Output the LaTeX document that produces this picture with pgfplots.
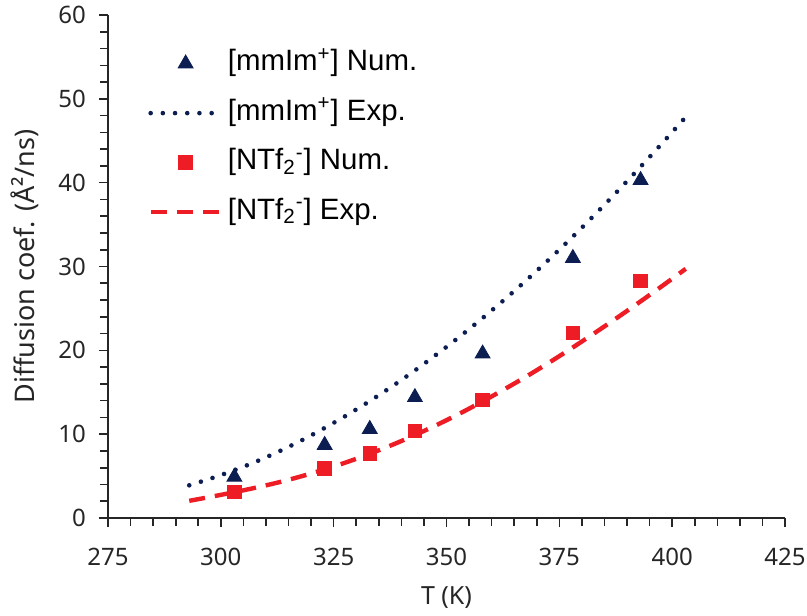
\documentclass[border=0pt]{standalone}
\usepackage{fontspec}
\setmainfont{Noto Sans}
\newfontfamily\legendfont{Liberation Sans}
\usepackage{pgfplots}
\pgfplotsset{compat=1.18}
\definecolor{navy}{HTML}{0B1D51}
\definecolor{exred}{HTML}{EE1C25}
\definecolor{axisgray}{HTML}{262626}

% Legend samples: a single centred mark, or a short line of given length
\pgfplotsset{
  markleg/.style={legend image code/.code={\draw[##1] plot coordinates {(17.5pt,0pt)};}},
  lineleg/.style={legend image code/.code={\draw[##1] (0pt,0pt) -- (#1,0pt);}},
}

% Simulated diffusion coefficients (symbols)
\pgfplotstableread{
T   D
303 4.9
323 8.7
333 10.6
343 14.4
358 19.6
378 31.0
393 40.3
}\cationNum
\pgfplotstableread{
T   D
303 3.1
323 5.9
333 7.7
343 10.4
358 14.1
378 22.1
393 28.3
}\anionNum
% Experimental correlations (lines)
\pgfplotstableread{
T   D
293 3.90
298 4.75
303 5.70
308 6.77
313 7.97
318 9.29
323 10.74
328 12.29
333 13.95
338 15.72
343 17.60
348 19.59
353 21.67
358 23.85
363 26.13
368 28.51
373 30.99
378 33.57
383 36.26
388 39.04
393 41.90
398 44.83
403 47.83
}\cationExp
\pgfplotstableread{
T   D
293 2.05
298 2.55
303 3.08
308 3.65
313 4.28
318 5.00
323 5.80
328 6.68
333 7.66
338 8.73
343 9.89
348 11.14
353 12.48
358 13.91
363 15.41
368 16.98
373 18.63
378 20.35
383 22.13
388 23.96
393 25.84
398 27.76
403 29.72
}\anionExp

\begin{document}
\begin{tikzpicture}
\path[use as bounding box] (-54pt,-48.5pt) rectangle (349.5pt,259pt);
\begin{axis}[
  at={(0,0)}, anchor=south west,
  scale only axis, width=338.5pt, height=251.5pt,
  xmin=275, xmax=425, ymin=0, ymax=60,
  xtick={275,300,...,425}, ytick={0,10,...,60},
  minor x tick num=4, minor y tick num=4,
  axis lines=left,
  axis line style={-, line width=0.9pt, axisgray},
  tick align=outside,
  major tick length=4.5pt, minor tick length=4pt,
  every tick/.style={line width=0.8pt, axisgray},
  /pgf/number format/assume math mode=true,
  ticklabel style={font=\fontsize{12}{14}\selectfont, text=axisgray},
  xticklabel style={yshift=-7pt},
  yticklabel style={xshift=-3pt},
  xlabel={T (K)},
  ylabel={Diffusion coef. (Å²/ns)},
  label style={text=axisgray},
  xlabel style={font=\fontsize{12.5}{15}\selectfont, at={(axis description cs:0.5,-0.159)}, anchor=center},
  ylabel style={font=\fontsize{13.5}{16}\selectfont, at={(axis description cs:-0.1226,0.5)}, anchor=center},
  legend cell align=left,
  legend style={
    at={(rel axis cs:0.059,0.930)}, anchor=north west,
    draw=none, fill=none, inner sep=0pt,
    font=\legendfont\fontsize{14.7}{17}\selectfont,
    row sep=11.75pt,
    nodes={inner sep=0pt, text height=10pt, text depth=3pt},
    /tikz/every odd column/.append style={column sep=2.5pt},
  },
]
\addplot[only marks, mark=triangle*, mark size=4.3pt, color=navy, markleg]
  table[x=T, y=D] {\cationNum};
\addlegendentry{[mmIm\textsuperscript{+}] Num.}

\addplot[navy, line width=2.3pt, line cap=round, dash pattern=on 0pt off 6.1pt, smooth, lineleg=31pt]
  table[x=T, y=D] {\cationExp};
\addlegendentry{[mmIm\textsuperscript{+}] Exp.}

\addplot[only marks, mark=square*, mark size=3.4pt, color=exred, markleg]
  table[x=T, y=D] {\anionNum};
\addlegendentry{[NTf\textsubscript{2}\textsuperscript{-}] Num.}

\addplot[exred, line width=2.2pt, dash pattern=on 8pt off 5pt, smooth, lineleg=35pt]
  table[x=T, y=D] {\anionExp};
\addlegendentry{[NTf\textsubscript{2}\textsuperscript{-}] Exp.}
\end{axis}
\end{tikzpicture}
\end{document}
